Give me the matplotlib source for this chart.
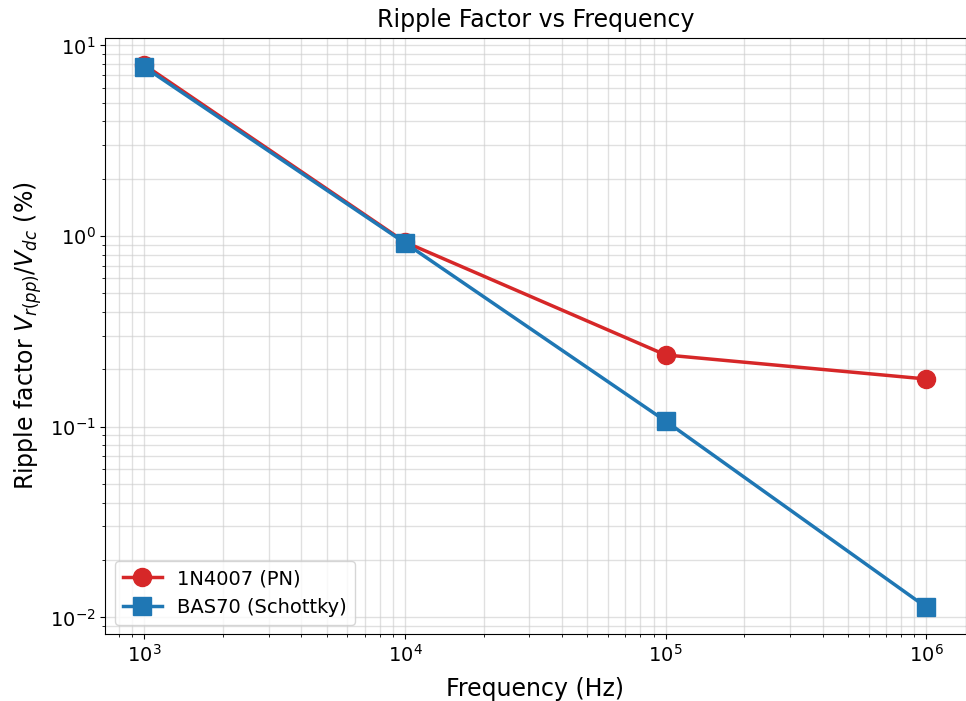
import numpy as np
import matplotlib
matplotlib.use("Agg")
import matplotlib.pyplot as plt

# data
freq = [1e3, 1e4, 1e5, 1e6]
ripple_pn = [7.9, 0.93, 0.238, 0.178]
ripple_schottky = [7.7, 0.92, 0.107, 0.0113]

fig, ax = plt.subplots(figsize=(9.66, 7.01), dpi=100)

ax.loglog(freq, ripple_pn, "o-", color="#d62728", lw=2.5, ms=13, label="1N4007 (PN)")
ax.loglog(freq, ripple_schottky, "s-", color="#1f77b4", lw=2.5, ms=13, label="BAS70 (Schottky)")

ax.grid(True, which="both", color="#cccccc", alpha=0.6, lw=1)
ax.set_xlabel("Frequency (Hz)", fontsize=17, labelpad=8)
ax.set_ylabel(r"Ripple factor $V_{r(pp)}/V_{dc}$ (%)", fontsize=17)
ax.set_title("Ripple Factor vs Frequency", fontsize=17, pad=8)
ax.tick_params(labelsize=14)
ax.legend(fontsize=14, loc="lower left")

fig.subplots_adjust(left=0.109, right=0.9995, top=0.946, bottom=0.095)
fig.savefig("out.png")
